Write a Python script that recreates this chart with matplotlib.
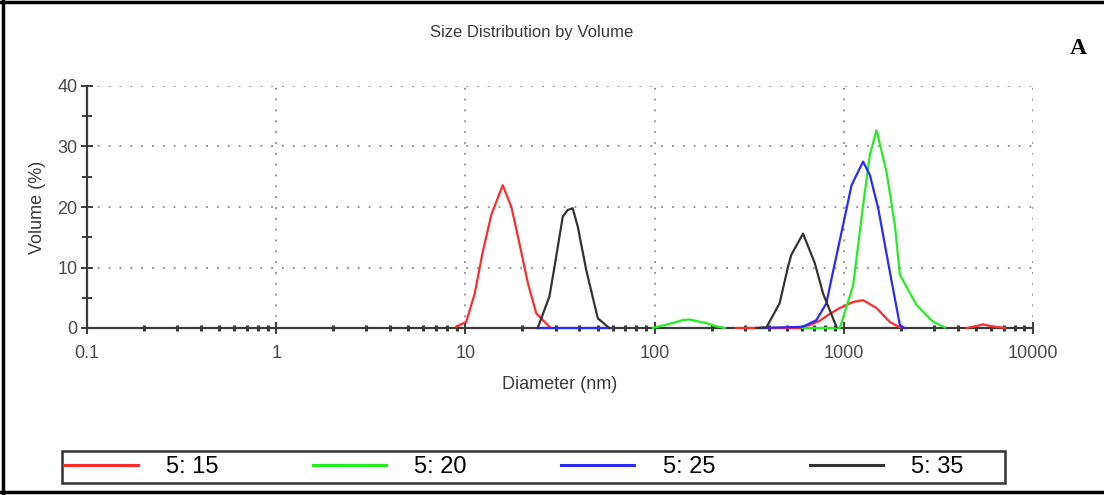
# Size distribution by volume, four ratios

import matplotlib.pyplot as plt
from matplotlib.lines import Line2D
from matplotlib.patches import Rectangle
import numpy as np

nan = np.nan

# values, gaps (nan) where a curve is not drawn
red_x = [8.93, 10.1, 11.2, 12.3, 13.7, 15.75, 17.5, 19.3, 21.4, 23.7, 27.8, nan,
         270, 580, 661, 747, 830, 952, 1120, 1265, 1489, 1751, 1978, nan,
         4460, 5000, 5460, 6000, 7110]
red_y = [0.2, 1.0, 5.7, 12.3, 18.7, 23.6, 20.0, 14.0, 7.4, 2.4, 0.2, nan,
         0, 0, 0.5, 1.2, 2.2, 3.3, 4.3, 4.6, 3.3, 1.0, 0.1, nan,
         0, 0.3, 0.6, 0.3, 0]

green_x = [98, 120, 141, 153, 188, 210, 235, nan,
           607, 953, 1120, 1265, 1373, 1489, 1682, 1862, 1978, 2424, 2972, 3422]
green_y = [0, 0.7, 1.3, 1.4, 0.8, 0.3, 0, nan,
           0, 0, 7.0, 20.3, 28.6, 32.7, 25.8, 17.0, 8.8, 3.8, 1.0, 0.1]

blue_x = [24.1, 57.6, nan,
          360, 607, 717, 809, 877, 991, 1099, 1265, 1373, 1520, 1751, 1978, 2090]
blue_y = [0, 0, nan,
          0, 0.2, 1.3, 4.1, 9.3, 17.0, 23.6, 27.5, 25.3, 19.8, 9.3, 0.5, 0]

black_x = [24.1, 27.8, 29.5, 32.7, 34.7, 36.9, 39.3, 43.5, 50.1, 57.6, nan,
           345, 390, 458, 507, 528, 609, 703, 777, 914]
black_y = [0, 5.2, 9.9, 18.4, 19.5, 19.8, 16.7, 9.6, 1.6, 0, nan,
           0, 0.1, 4.1, 10.1, 12.1, 15.6, 10.7, 5.7, 0.2]

labels = ["5: 15", "5: 20", "5: 25", "5: 35"]
colors = ["#ff2a2a", "#22ee22", "#2a2aff", "#333333"]
x_ticks = [0.1, 1, 10, 100, 1000, 10000]
x_tick_labels = ["0.1", "1", "10", "100", "1000", "10000"]
y_ticks = [0, 10, 20, 30, 40]

plt.rcParams["font.family"] = ["Liberation Sans", "DejaVu Sans"]

W, H = 1104, 495
fig = plt.figure(figsize=(W / 100, H / 100), dpi=100)
ax = fig.add_axes([87 / W, 1 - 328 / H, (1033 - 87) / W, (328 - 86) / H])

series = [(red_x, red_y), (green_x, green_y), (blue_x, blue_y), (black_x, black_y)]
for (xs, ys), c, lab in zip(series, colors, labels):
    ax.plot(xs, ys, color=c, lw=1.6, label=lab, clip_on=False, zorder=4)

ax.set_xscale("log")
ax.set_xlim(0.1, 10000)
ax.set_ylim(0, 40)
ax.set_xticks(x_ticks)
ax.set_xticklabels(x_tick_labels)
ax.set_xticks([m * d for d in [0.1, 1, 10, 100, 1000] for m in range(2, 10)], minor=True)
ax.set_yticks(y_ticks)
ax.set_yticks([5, 15, 25, 35], minor=True)

for s in ["top", "right"]:
    ax.spines[s].set_visible(False)
for s in ["left", "bottom"]:
    ax.spines[s].set_color("#3a3a3a")
    ax.spines[s].set_linewidth(1.6)
    ax.spines[s].set_zorder(3)

ax.grid(True, which="major", color="#8a8a8a", lw=1.3, linestyle=(0, (1, 5)))
ax.set_axisbelow(True)

ax.tick_params(axis="both", which="major", direction="inout", length=8, width=1.4,
               color="#3a3a3a", labelsize=13, labelcolor="#4a4a4a")
ax.tick_params(axis="y", which="minor", direction="inout", length=7, width=1.4, color="#3a3a3a")
ax.tick_params(axis="x", which="minor", direction="inout", length=4, width=2.2, color="#3a3a3a")
ax.tick_params(axis="x", which="major", pad=8)
ax.tick_params(axis="y", which="major", pad=3)

ax.set_xlabel("Diameter (nm)", fontsize=13, color="#3a3a3a", labelpad=10)
ax.set_ylabel("Volume (%)", fontsize=13, color="#3a3a3a", labelpad=8)
fig.text(532 / W, 1 - 32 / H, "Size Distribution by Volume", ha="center", va="center",
         fontsize=12, color="#3a3a3a")
fig.text(1078 / W, 1 - 48 / H, "A", ha="center", va="center", fontsize=17,
         fontweight="bold", family=["Liberation Serif", "DejaVu Serif"])

# legend: entries spread over most of the box, frame drawn separately
handles, labs = ax.get_legend_handles_labels()
leg = fig.legend(handles, labs, loc="center", ncol=4, mode="expand",
                 bbox_to_anchor=(62 / W, 1 - 483 / H, (966 - 62) / W, 32 / H),
                 fontsize=17, handlelength=3.1, handletextpad=1.2, borderpad=0.1,
                 borderaxespad=0, frameon=False)
for line in leg.get_lines():
    line.set_linewidth(2.2)
fig.add_artist(Rectangle((62 / W, 1 - 483 / H), (1005 - 62) / W, 32 / H,
                         transform=fig.transFigure, fill=False,
                         edgecolor="#333333", lw=1.8))

# outer frame of the figure
fig.add_artist(Line2D([3 / W, 3 / W], [0, 1], color="black", lw=2.5))
fig.add_artist(Line2D([0, 1], [1 - 1.5 / H, 1 - 1.5 / H], color="black", lw=2.5))
fig.add_artist(Line2D([0, 1], [1 - 492 / H, 1 - 492 / H], color="black", lw=2.5))

fig.savefig("out.png", dpi=100)
